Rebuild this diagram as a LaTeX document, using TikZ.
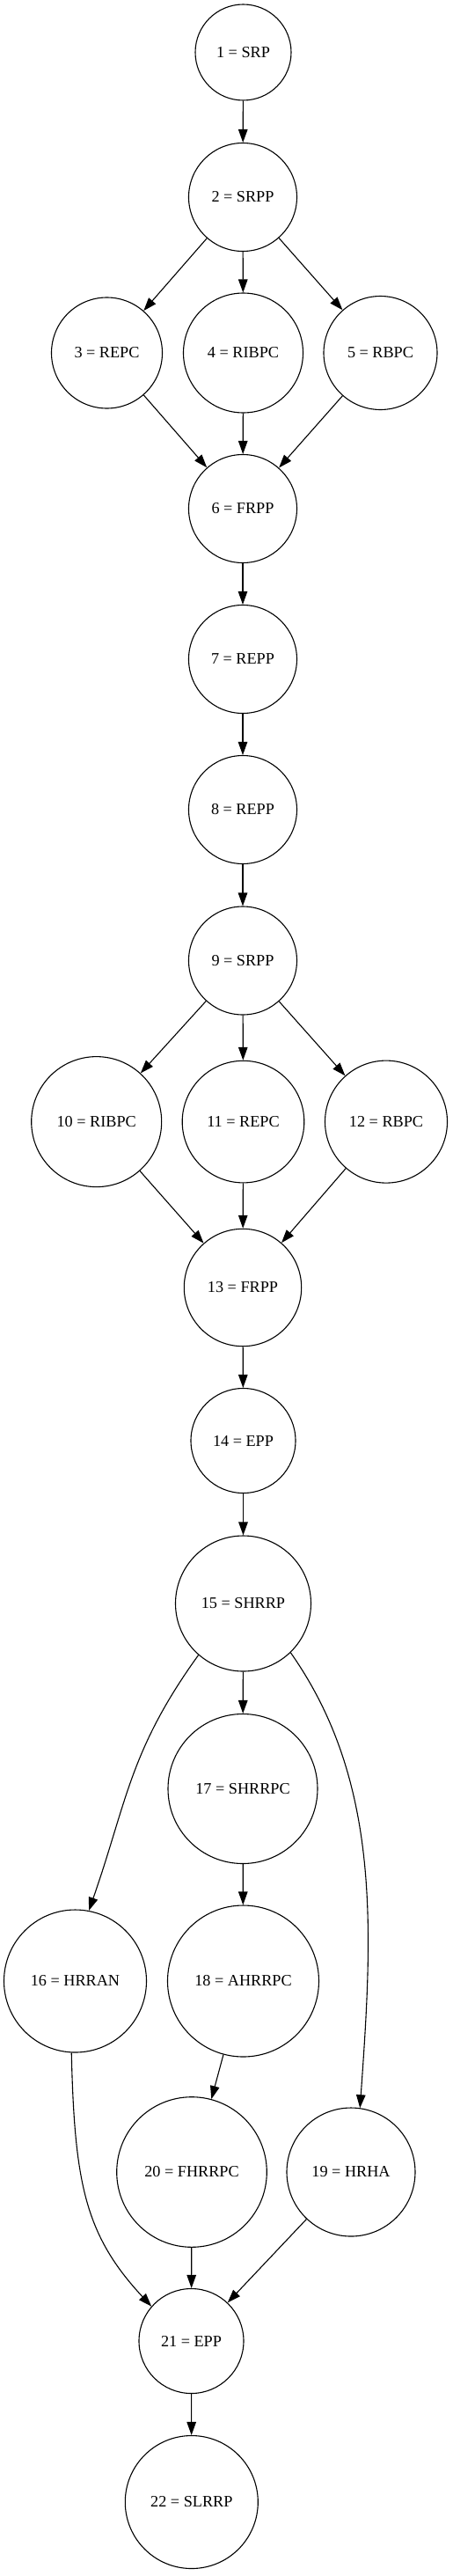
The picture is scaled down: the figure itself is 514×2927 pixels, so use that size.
\documentclass[tikz,border=0pt]{standalone}
\usepackage{fontspec}
\setmainfont{Liberation Serif}
\usetikzlibrary{arrows.meta}
\begin{document}
\begin{tikzpicture}[x=1pt,y=-1pt,
  st/.style={circle,draw,line width=1.1pt,inner sep=0pt,font=\fontsize{18.2}{22}\selectfont},
  arr/.style={line width=1.1pt,-{Triangle[length=15pt,width=10.5pt]}}]
\useasboundingbox (0,0) rectangle (514,2927);
\node[st,minimum size=109pt] (n1) at (276.5,59.5) {1 = SRP};
\node[st,minimum size=123pt] (n2) at (276,224) {2 = SRPP};
\node[st,minimum size=126pt] (n3) at (121.5,401) {3 = REPC};
\node[st,minimum size=136pt] (n4) at (276.5,401) {4 = RIBPC};
\node[st,minimum size=129pt] (n5) at (432.5,401) {5 = RBPC};
\node[st,minimum size=123pt] (n6) at (276,578) {6 = FRPP};
\node[st,minimum size=123pt] (n7) at (276,749) {7 = REPP};
\node[st,minimum size=123pt] (n8) at (276,920) {8 = REPP};
\node[st,minimum size=123pt] (n9) at (276,1091.5) {9 = SRPP};
\node[st,minimum size=148pt] (n10) at (109.7,1274.6) {10 = RIBPC};
\node[st,minimum size=138.6pt] (n11) at (276.5,1274.6) {11 = REPC};
\node[st,minimum size=139pt] (n12) at (439,1274.6) {12 = RBPC};
\node[st,minimum size=133.4pt] (n13) at (276,1463) {13 = FRPP};
\node[st,minimum size=119pt] (n14) at (276.5,1637) {14 = EPP};
\node[st,minimum size=154pt] (n15) at (276.5,1822) {15 = SHRRP};
\node[st,minimum size=170pt] (n17) at (276,2032.5) {17 = SHRRPC};
\node[st,minimum size=162pt] (n16) at (85.5,2251) {16 = HRRAN};
\node[st,minimum size=172pt] (n18) at (276.5,2251) {18 = AHRRPC};
\node[st,minimum size=170.6pt] (n20) at (218,2468) {20 = FHRRPC};
\node[st,minimum size=146pt] (n19) at (399,2468) {19 = HRHA};
\node[st,minimum size=119pt] (n21) at (217.5,2660) {21 = EPP};
\node[st,minimum size=151pt] (n22) at (217.8,2843) {22 = SLRRP};

\draw[arr] (n1) -- (n2);
\draw[arr] (n2) -- (n3);
\draw[arr] (n2) -- (n4);
\draw[arr] (n2) -- (n5);
\draw[arr] (n3) -- (n6);
\draw[arr] (n4) -- (n6);
\draw[arr] (n5) -- (n6);
\draw[arr] (n6) -- (n7);
\draw[arr] (n7) -- (n8);
\draw[arr] (n8) -- (n9);
\draw[arr] (n9) -- (n10);
\draw[arr] (n9) -- (n11);
\draw[arr] (n9) -- (n12);
\draw[arr] (n10) -- (n13);
\draw[arr] (n11) -- (n13);
\draw[arr] (n12) -- (n13);
\draw[arr] (n13) -- (n14);
\draw[arr] (n14) -- (n15);
\draw[arr] (n15.-131) .. controls (147.2,1989.1) and (144.4,2046.9) .. (n16.79);
\draw[arr] (n15) -- (n17);
\draw[arr] (n15.-46) .. controls (434.5,2025.7) and (423.3,2197) .. (n19.82);
\draw[arr] (n17) -- (n18);
\draw[arr] (n18) -- (n20);
\draw[arr] (n16.-93) .. controls (84.7,2482) and (97.2,2539.9) .. (n21.139);
\draw[arr] (n20) -- (n21);
\draw[arr] (n19) -- (n21);
\draw[arr] (n21) -- (n22);
\end{tikzpicture}
\end{document}
